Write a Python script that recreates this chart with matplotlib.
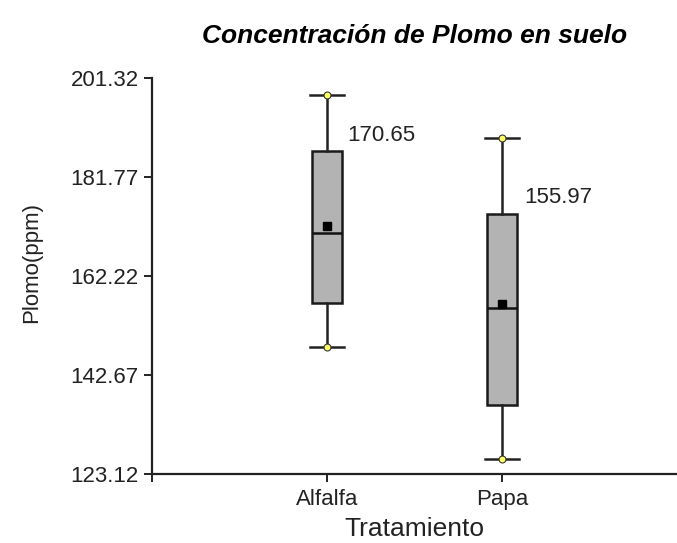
import matplotlib
matplotlib.use('Agg')
from matplotlib import pyplot as plt

plt.rcParams['font.family'] = ['Liberation Sans', 'DejaVu Sans']

tratamientos = ['Alfalfa', 'Papa']
whis_low = [148.1, 126.1]
q1 = [156.9, 136.8]
medianas = [170.65, 155.97]
q3 = [186.9, 174.4]
whis_high = [197.9, 189.4]
medias = [172.0, 156.7]
yticks = [123.12, 142.67, 162.22, 181.77, 201.32]

stats = []
for i in range(len(tratamientos)):
    stats.append({'label': tratamientos[i], 'whislo': whis_low[i], 'q1': q1[i],
                  'med': medianas[i], 'q3': q3[i], 'whishi': whis_high[i],
                  'mean': medias[i], 'fliers': []})

fig = plt.figure(figsize=(6.77, 5.43), dpi=100)
ax = fig.add_axes([0.2245, 0.1271, 0.7755, 0.7293])

pos = [1, 2]
ax.bxp(stats, positions=pos, widths=0.171, patch_artist=True, showmeans=True,
       boxprops=dict(facecolor='#b3b3b3', edgecolor='#1a1a1a', linewidth=1.8),
       medianprops=dict(color='#111111', linewidth=1.8),
       whiskerprops=dict(color='#222222', linewidth=1.8),
       capprops=dict(color='#222222', linewidth=1.8),
       capwidths=0.19,
       meanprops=dict(marker='s', markerfacecolor='black', markeredgecolor='black', markersize=6))

ax.plot(pos, whis_low, 'o', color='#ffff66', markeredgecolor='#333333', markersize=5, markeredgewidth=0.8, zorder=5)
ax.plot(pos, whis_high, 'o', color='#ffff66', markeredgecolor='#333333', markersize=5, markeredgewidth=0.8, zorder=5)

ax.text(1.118, 190.0, '170.65', fontsize=16, va='center', ha='left', color='#222222')
ax.text(2.127, 177.8, '155.97', fontsize=16, va='center', ha='left', color='#222222')

ax.set_xlim(0, 3)
ax.set_ylim(123.12, 201.32)
ax.set_yticks(yticks)
ax.set_yticklabels(['%.2f' % v for v in yticks])
ax.set_xticks([0, 1, 2])
ax.set_xticklabels(['', 'Alfalfa', 'Papa'])
ax.tick_params(axis='both', direction='out', length=6, width=1.4, labelsize=16, colors='#222222')
ax.tick_params(axis='x', pad=5)
for s in ['top', 'right']:
    ax.spines[s].set_visible(False)
for s in ['left', 'bottom']:
    ax.spines[s].set_linewidth(1.6)
    ax.spines[s].set_color('#222222')

ax.set_xlabel('Tratamiento', fontsize=19, color='#222222', labelpad=5)
ax.set_ylabel('Plomo(ppm)', fontsize=16, color='#222222')
ax.yaxis.set_label_coords(-0.21, 0.535)
ax.set_title('Concentración de Plomo en suelo', fontsize=19, fontweight='bold', style='italic', pad=25)

plt.savefig('out.png', dpi=100)
